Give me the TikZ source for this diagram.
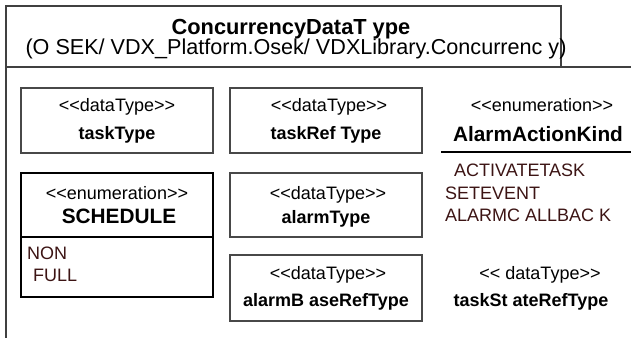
\documentclass[tikz,border=0pt]{standalone}
\usepackage{fontspec}
\setmainfont{Liberation Sans}
\newfontfamily\arialf{Liberation Sans}
\newcommand\stL{<\kern0pt<}
\newcommand\stR{>\kern0pt>}
\definecolor{framegray}{HTML}{404040}
\definecolor{boxgray}{HTML}{484848}
\definecolor{itemred}{HTML}{3C1414}
\begin{document}
\begin{tikzpicture}[x=1pt,y=-1pt,
  framel/.style={draw=framegray, line width=2.6pt},
  dtbox/.style={draw=boxgray, line width=2pt},
  enbox/.style={draw=black, line width=2.6pt},
  stereo/.style={anchor=base, inner sep=0pt, font=\arialf\fontsize{18}{20}\selectfont},
  dtname/.style={anchor=base, inner sep=0pt, font=\arialf\bfseries\fontsize{18}{20}\selectfont},
  enname/.style={anchor=base, inner sep=0pt, font=\arialf\bfseries\fontsize{20.8}{22}\selectfont},
  item/.style={anchor=base west, inner sep=0pt, text=itemred, font=\arialf\fontsize{18}{20}\selectfont}]
\useasboundingbox (0,0) rectangle (631,337);
% package frame
\coordinate (fbl) at (6,340);
\coordinate (ftl) at (6,67);
\coordinate (ftr) at (634,67);
\draw[framel] (fbl) -- (ftl) -- (ftr);
\draw[framel] (6,6) rectangle (561,67);
\node[anchor=base, inner sep=0pt, font=\arialf\bfseries\fontsize{21.8}{24}\selectfont] (title) at (291,34.5) {ConcurrencyDataT ype};
\node[anchor=base, inner sep=0pt, font=\arialf\fontsize{21.6}{24}\selectfont] (path) at (296,55) {(O SEK/ VDX\_Platform.Osek/ VDXLibrary.Concurrenc y)};
% taskType
\draw[dtbox] (21,88) rectangle (213,153);
\node[stereo] (s1) at (117,111.5) {\stL dataType\stR};
\node[dtname] (n1) at (117,139.5) {taskType};
% taskRefType
\draw[dtbox] (230,88) rectangle (422,153);
\node[stereo] (s2) at (329,111.5) {\stL dataType\stR};
\node[dtname] (n2) at (326,139.5) {taskRef Type};
% AlarmActionKind
\node[stereo] (s3) at (542,111.5) {\stL enumeration\stR};
\node[enname] (n3) at (538,141) {AlarmActionKind};
\coordinate (l3a) at (441,152);
\coordinate (l3b) at (634,152);
\draw[black, line width=2pt] (l3a) -- (l3b);
\node[item] (i31) at (454,176.5) {ACTIVATETASK};
\node[item] (i32) at (445,199) {SETEVENT};
\node[item] (i33) at (445,221.5) {ALARMC ALLBAC K};
% SCHEDULE
\draw[enbox] (21,173) rectangle (213,297);
\draw[enbox] (21,237) -- (213,237);
\node[stereo] (s4) at (117,199) {\stL enumeration\stR};
\node[enname] (n4) at (119,223) {SCHEDULE};
\node[item] (i41) at (27,259.5) {NON};
\node[item] (i42) at (33,281.5) {FULL};
% alarmType
\draw[dtbox] (230,173) rectangle (422,237);
\node[stereo] (s5) at (328,199) {\stL dataType\stR};
\node[dtname] (n5) at (326,223) {alarmType};
% alarmBaseRefType
\draw[dtbox] (230,255) rectangle (422,321);
\node[stereo] (s6) at (328,279.5) {\stL dataType\stR};
\node[dtname] (n6) at (326,306) {alarmB aseRefType};
% taskStateRefType
\node[stereo] (s7) at (540,279.5) {\stL{} dataType\stR};
\node[dtname] (n7) at (531,306) {taskSt ateRefType};
\end{tikzpicture}
\end{document}
